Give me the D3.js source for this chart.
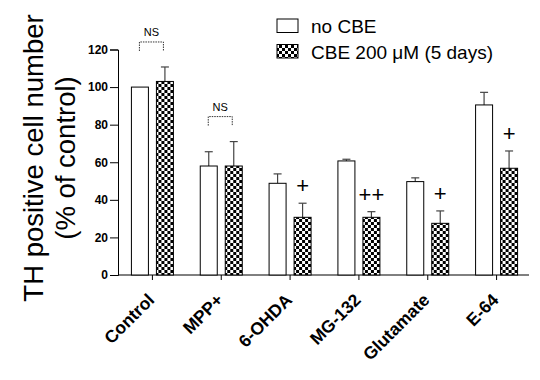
<!DOCTYPE html>
<html><head><meta charset="utf-8">
<script src="https://cdn.jsdelivr.net/npm/d3@7"></script>
<style>body{margin:0;background:#fff}svg{display:block}text{font-family:"Liberation Sans",Arial,sans-serif}</style>
</head><body>
<svg id="c" width="540" height="380"></svg>
<script>
const categories = ["Control","MPP+","6-OHDA","MG-132","Glutamate","E-64"];
const noCBE = [100, 58, 48.8, 60.7, 49.7, 90.5];
const noCBEErr = [0, 7.6, 5, 0.9, 2, 6.7];
const cbe = [103, 58, 30.7, 30.7, 27.5, 56.8];
const cbeErr = [7.7, 13, 7.5, 3, 6.6, 9.2];
const sigLabels = ["NS","NS","+","++","+","+"];
const yTicks = [0,20,40,60,80,100,120];
const seriesNames = ["no CBE","CBE 200 \u03BCM (5 days)"];

const svg = d3.select("#c");
const defs = svg.append("defs");
const pat = defs.append("pattern").attr("id","chk").attr("patternUnits","userSpaceOnUse")
  .attr("width",6).attr("height",6);
pat.append("rect").attr("width",6).attr("height",6).attr("fill","#fff");
pat.append("rect").attr("width",3).attr("height",3).attr("fill","#000");
pat.append("rect").attr("x",3).attr("y",3).attr("width",3).attr("height",3).attr("fill","#000");

const y = d3.scaleLinear().domain([0,120]).range([275,49.5]);
const x = d3.scaleBand().domain(categories).range([118,531]);
const sub = d3.scaleBand().domain([0,1]).range([-21,21]).paddingInner(0.32);

// y axis
const ya = svg.append("g").attr("transform","translate(118,0)")
  .call(d3.axisLeft(y).tickValues(yTicks).tickSize(8).tickPadding(2));
ya.select(".domain").attr("stroke","#000");
ya.selectAll("text").attr("font-size",12).attr("font-weight","bold").attr("fill","#000");
// x axis
const xa = svg.append("g").attr("transform","translate(0,275)")
  .call(d3.axisBottom(x).tickSize(5).tickSizeOuter(0));
xa.select(".domain").attr("stroke","#000").attr("d","M118,0H529");
xa.selectAll("text").attr("font-size",17.5).attr("font-weight","bold").attr("fill","#000")
  .attr("text-anchor","end").attr("dy",0).attr("y",0)
  .attr("transform","translate(3,26) rotate(-45)");

const data = categories.map((c,i)=>({c,i,vals:[noCBE[i],cbe[i]],errs:[noCBEErr[i],cbeErr[i]]}));
const groups = svg.append("g").selectAll("g").data(data).join("g")
  .attr("transform",d=>`translate(${x(d.c)+x.bandwidth()/2},0)`);

// error bars
groups.each(function(d){
  const g = d3.select(this);
  d.vals.forEach((v,k)=>{
    if(d.errs[k]<=0) return;
    const cx = sub(k)+sub.bandwidth()/2;
    g.append("line").attr("x1",cx).attr("x2",cx).attr("y1",y(v)).attr("y2",y(v+d.errs[k]))
      .attr("stroke","#444").attr("stroke-width",1.2);
    g.append("line").attr("x1",cx-4).attr("x2",cx+4).attr("y1",y(v+d.errs[k])).attr("y2",y(v+d.errs[k]))
      .attr("stroke","#444").attr("stroke-width",1.2);
  });
});
// bars
groups.selectAll("rect").data(d=>d.vals.map((v,k)=>({v,k}))).join("rect")
  .attr("x",d=>sub(d.k)).attr("width",sub.bandwidth())
  .attr("y",d=>y(d.v)).attr("height",d=>y(0)-y(d.v))
  .attr("fill",d=>d.k===0?"#fff":"url(#chk)").attr("stroke","#000").attr("stroke-width",1);

// significance
groups.each(function(d){
  const g = d3.select(this);
  const lab = sigLabels[d.i];
  if(lab==="NS"){
    const top = y(Math.max(d.vals[0]+d.errs[0], d.vals[1]+d.errs[1])) - 25;
    g.append("path").attr("d",`M-13,${top+9}V${top}H11V${top+9}`).attr("fill","none")
      .attr("stroke","#333").attr("stroke-width",1).attr("stroke-dasharray","1.5,1");
    g.append("text").attr("x",-1).attr("y",top-6).attr("text-anchor","middle")
      .attr("font-size",11).text(lab);
  } else {
    const cx = sub(1)+sub.bandwidth()/2;
    g.append("text").attr("x",cx).attr("y",y(d.vals[1]+d.errs[1])-10).attr("text-anchor","middle")
      .attr("font-size",22).text(lab);
  }
});

// legend
const lg = svg.append("g");
seriesNames.forEach((n,k)=>{
  lg.append("rect").attr("x",277).attr("y",19+k*25.5).attr("width",21).attr("height",13.5)
    .attr("fill",k===0?"#fff":"url(#chk)").attr("stroke","#000");
  lg.append("text").attr("x",311).attr("y",33+k*25.5).attr("font-size",19).text(n);
});

// y title
const yt = svg.append("text").attr("transform","translate(43,158) rotate(-90)")
  .attr("text-anchor","middle").attr("font-size",27.5);
yt.append("tspan").attr("x",0).attr("y",0).text("TH positive cell number");
yt.append("tspan").attr("x",0).attr("y",32).text("(% of control)");
</script>
</body></html>
